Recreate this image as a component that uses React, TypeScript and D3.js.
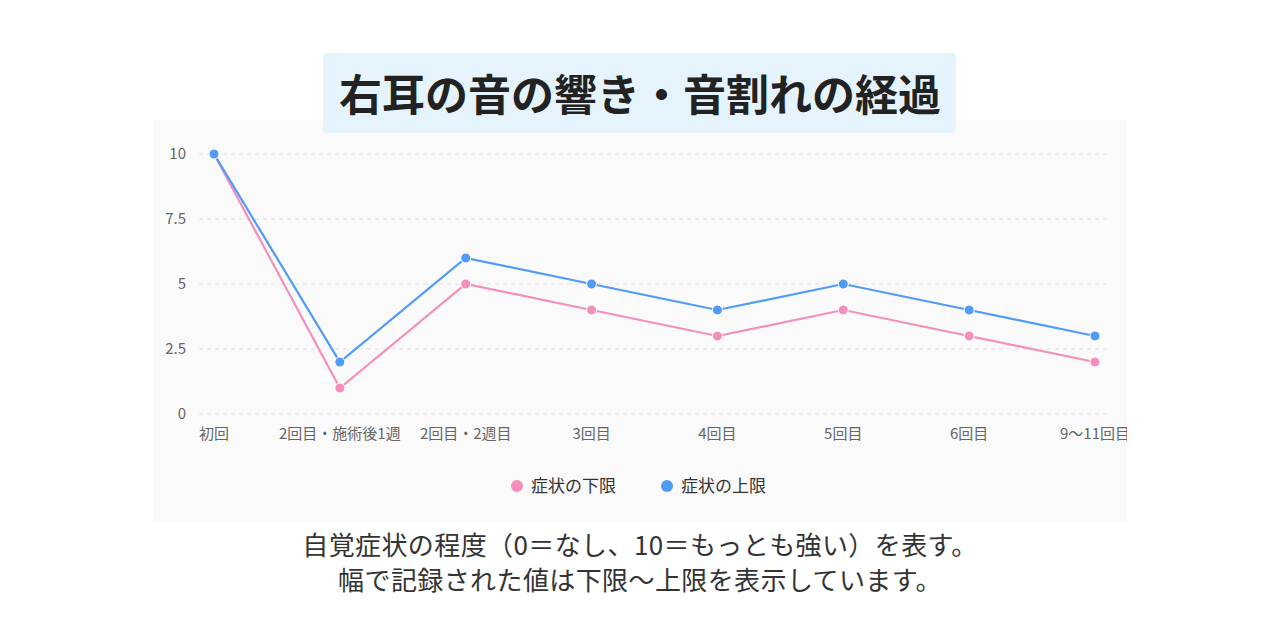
import React from "react";
import * as d3 from "d3";

const categories = ["初回", "2回目・施術後1週", "2回目・2週目", "3回目", "4回目", "5回目", "6回目", "9〜11回目"];
const lowerValues = [10, 1, 5, 4, 3, 4, 3, 2];
const upperValues = [10, 2, 6, 5, 4, 5, 4, 3];
const yTicks = [0, 2.5, 5, 7.5, 10];
const seriesNames = ["症状の下限", "症状の上限"];
const title = "右耳の音の響き・音割れの経過";
const captionLines = [
  "自覚症状の程度（0＝なし、10＝もっとも強い）を表す。",
  "幅で記録された値は下限〜上限を表示しています。",
];

const PINK = "#f48fbb";
const BLUE = "#4f9bf7";
const FONT = "'Noto Sans CJK JP', 'Noto Sans', sans-serif";

export default function App() {
  const W = 1280, H = 640;
  const panel = { x: 153, y: 120, w: 974, h: 403 };
  const x = d3.scalePoint<string>().domain(categories).range([214, 1095]);
  const y = d3.scaleLinear().domain([0, 10]).range([414, 154]);
  const line = d3.line<number>().x((_, i) => x(categories[i]) as number).y((d) => y(d));
  const series = [
    { name: seriesNames[0], values: lowerValues, color: PINK },
    { name: seriesNames[1], values: upperValues, color: BLUE },
  ];
  return (
    <svg width={W} height={H} style={{ position: "absolute", left: 0, top: 0, fontFamily: FONT }}>
      <rect x={0} y={0} width={W} height={H} fill="#ffffff" />
      <defs>
        <clipPath id="panelClip">
          <rect x={panel.x} y={panel.y} width={panel.w} height={panel.h} />
        </clipPath>
      </defs>
      <rect x={panel.x} y={panel.y} width={panel.w} height={panel.h} fill="#fafafa" />
      <g clipPath="url(#panelClip)">
        {yTicks.map((t) => (
          <g key={t}>
            <line x1={199} x2={1108} y1={y(t)} y2={y(t)} stroke="#e0e0e0" strokeWidth={1} strokeDasharray="4 4" />
            <text x={186} y={y(t)} dy="0.35em" textAnchor="end" fontSize={15} fill="#666">
              {String(t)}
            </text>
          </g>
        ))}
        {categories.map((c) => (
          <text key={c} x={x(c)} y={439} textAnchor="middle" fontSize={15} fill="#666">
            {c}
          </text>
        ))}
        {series.map((s) => (
          <g key={s.name}>
            <path d={line(s.values) || ""} fill="none" stroke={s.color} strokeWidth={2.2} />
            {s.values.map((v, i) => (
              <circle key={i} cx={x(categories[i])} cy={y(v)} r={5} fill={s.color} stroke="#fff" strokeWidth={1} />
            ))}
          </g>
        ))}
        <g>
          <circle cx={517} cy={486} r={6} fill={PINK} />
          <text x={531} y={486} dy="0.35em" fontSize={17} fill="#333">{seriesNames[0]}</text>
          <circle cx={667} cy={486} r={6} fill={BLUE} />
          <text x={681} y={486} dy="0.35em" fontSize={17} fill="#333">{seriesNames[1]}</text>
        </g>
      </g>
      <rect x={323} y={53} width={633} height={80} rx={4} fill="#e5f4fc" />
      <text x={640} y={111} textAnchor="middle" fontSize={43} fontWeight={700} fill="#222">
        {title}
      </text>
      {captionLines.map((l, i) => (
        <text key={i} x={640} y={555 + i * 35} textAnchor="middle" fontSize={26} letterSpacing={0.4} fill="#333">
          {l}
        </text>
      ))}
    </svg>
  );
}
